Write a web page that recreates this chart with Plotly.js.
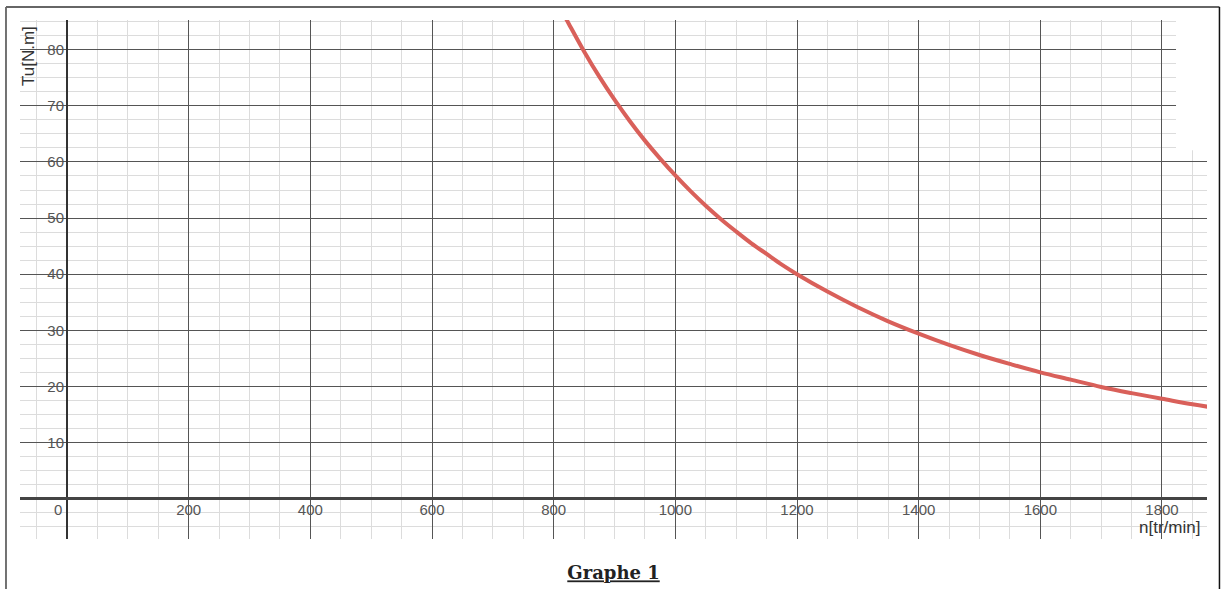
<!DOCTYPE html>
<html>
<head>
<meta charset="utf-8">
<script src="https://cdn.plot.ly/plotly-3.0.1.min.js"></script>
<style>
  html, body { margin: 0; padding: 0; background: #fff; }
  #chart { width: 1223px; height: 589px; }
</style>
</head>
<body>
<div id="chart"></div>
<script>
// Speed n [tr/min] and useful torque Tu [N.m]
const speedN = [820, 825, 850, 875, 900, 925, 950, 975, 1000, 1025, 1050, 1075, 1100, 1125, 1150, 1175, 1200, 1250, 1300, 1350, 1400, 1450, 1500, 1550, 1600, 1650, 1700, 1750, 1800, 1850, 1880];
const torqueTu = [85.6, 84.6, 79.7, 75.2, 71.1, 67.3, 63.8, 60.6, 57.6, 54.8, 52.2, 49.8, 47.6, 45.5, 43.6, 41.7, 40.0, 36.9, 34.1, 31.6, 29.4, 27.4, 25.6, 24.0, 22.5, 21.2, 19.9, 18.8, 17.8, 16.8, 16.3];

const xTickVals = [200, 400, 600, 800, 1000, 1200, 1400, 1600, 1800];
const xTickText = ['200', '400', '600', '800', '1000', '1200', '1400', '1600', '1800'];
const yTickVals = [10, 20, 30, 40, 50, 60, 70, 80];
const yTickText = ['10', '20', '30', '40', '50', '60', '70', '80'];

const tickFont = { family: 'Liberation Sans, Arial, sans-serif', size: 15, color: '#555' };

const trace = {
  x: speedN,
  y: torqueTu,
  type: 'scatter',
  mode: 'lines',
  line: { color: '#d9605a', width: 4, shape: 'spline' },
  hoverinfo: 'skip'
};

const layout = {
  width: 1223,
  height: 589,
  margin: { l: 20, r: 16, t: 20, b: 50 },
  paper_bgcolor: '#ffffff',
  plot_bgcolor: '#ffffff',
  showlegend: false,
  title: {
    text: '<b><u>Graphe 1</u></b>',
    font: { family: 'DejaVu Serif, serif', size: 18, color: '#222' },
    x: 0.5, xref: 'paper', xanchor: 'center',
    y: 0.027, yref: 'container', yanchor: 'middle'
  },
  xaxis: {
    range: [-77.3, 1874],
    tickmode: 'array',
    tickvals: xTickVals,
    ticktext: xTickText,
    ticks: '',
    showline: false,
    showgrid: true,
    gridcolor: '#555',
    gridwidth: 1,
    minor: { tickmode: 'linear', tick0: 0, dtick: 50, showgrid: true, gridcolor: '#dcdcdc', gridwidth: 1, ticks: '' },
    zeroline: true,
    zerolinecolor: '#333',
    zerolinewidth: 2,
    anchor: 'free',
    position: 0.078,
    tickfont: tickFont,
    fixedrange: true
  },
  yaxis: {
    range: [-7.2, 85.3],
    tickmode: 'array',
    tickvals: yTickVals,
    ticktext: yTickText,
    ticks: '',
    ticklabelstandoff: 3,
    showline: false,
    showgrid: true,
    gridcolor: '#555',
    gridwidth: 1,
    minor: { tickmode: 'linear', tick0: 0, dtick: 2.5, showgrid: true, gridcolor: '#dcdcdc', gridwidth: 1, ticks: '' },
    zeroline: true,
    zerolinecolor: '#444',
    zerolinewidth: 3,
    anchor: 'free',
    position: 0.0396,
    tickfont: tickFont,
    fixedrange: true
  },
  shapes: [
    // white cut-out at the top-right of the grid
    { type: 'rect', xref: 'paper', yref: 'paper', x0: 0.9739, x1: 1.002, y0: 0.749, y1: 1.005,
      fillcolor: '#ffffff', line: { width: 0 }, layer: 'above' },
    // frame
    { type: 'line', xref: 'paper', yref: 'paper', x0: -0.0118, x1: -0.0118, y0: -0.1, y1: 1.025,
      line: { color: '#444', width: 1.5 } },
    { type: 'line', xref: 'paper', yref: 'paper', x0: -0.0118, x1: 1.0105, y0: 1.025, y1: 1.025,
      line: { color: '#666', width: 2 } },
    { type: 'line', xref: 'paper', yref: 'paper', x0: 1.0105, x1: 1.0105, y0: 1.025, y1: -0.1,
      line: { color: '#111', width: 1.5 } }
  ],
  annotations: [
    { text: 'Tu[N.m]', xref: 'paper', yref: 'paper', x: 0.0067, y: 0.9306, textangle: -90,
      showarrow: false, xanchor: 'center', yanchor: 'middle',
      font: { family: 'Liberation Sans, Arial, sans-serif', size: 17, color: '#333' } },
    { text: 'n[tr/min]', xref: 'paper', yref: 'paper', x: 0.968, y: 0.0212,
      showarrow: false, xanchor: 'center', yanchor: 'middle',
      font: { family: 'Liberation Sans, Arial, sans-serif', size: 17, color: '#333' } },
    { text: '0', xref: 'paper', yref: 'paper', x: 0.032, y: 0.0578,
      showarrow: false, xanchor: 'center', yanchor: 'middle', font: tickFont }
  ]
};

Plotly.newPlot('chart', [trace], layout, { displayModeBar: false, staticPlot: true });
</script>
</body>
</html>
